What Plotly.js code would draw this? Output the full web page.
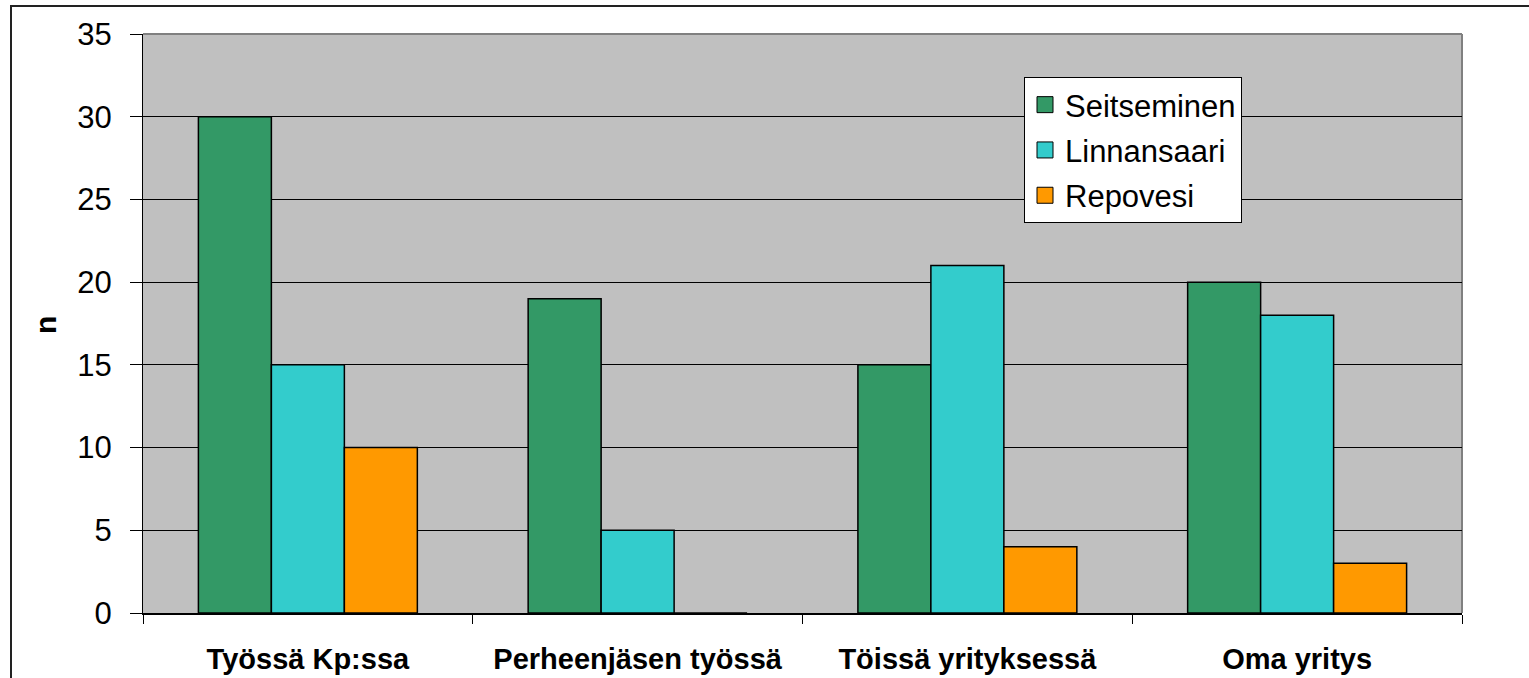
<!DOCTYPE html>
<html>
<head>
<meta charset="utf-8">
<script src="https://cdn.plot.ly/plotly-3.0.1.min.js"></script>
<style>
html,body{margin:0;padding:0;background:#fff;}
#chart{width:1529px;height:678px;}
</style>
</head>
<body>
<div id="chart"></div>
<script>
const categories = ["Työssä Kp:ssa", "Perheenjäsen työssä", "Töissä yrityksessä", "Oma yritys"];
const seriesNames = ["Seitseminen", "Linnansaari", "Repovesi"];
const seitseminen = [30, 19, 15, 20];
const linnansaari = [15, 5, 21, 18];
const repovesi = [10, 0, 4, 3];
const colors = ["#339966", "#33CCCC", "#FF9900"];
const yTicks = [0, 5, 10, 15, 20, 25, 30, 35];

const FONT = "Arial, 'Liberation Sans', sans-serif";
const values = [seitseminen, linnansaari, repovesi];

const traces = [];
values.forEach((v, i) => {
  traces.push({
    type: "bar",
    x: categories,
    y: v,
    name: seriesNames[i],
    showlegend: false,
    marker: {color: colors[i], line: {color: "#000", width: 1.5}},
    hoverinfo: "x+y+name"
  });
});
values.forEach((v, i) => {
  traces.push({
    type: "scatter",
    mode: "markers",
    x: [null],
    y: [null],
    name: seriesNames[i],
    legendgroup: "g" + i,
    marker: {symbol: "square", size: 19, color: colors[i], line: {color: "#000", width: 1}},
    hoverinfo: "skip"
  });
});

const L = 143, R = 1462, T = 34, B = 613, W = 1529, H = 678;
const pw = R - L, ph = B - T;

const layout = {
  width: W, height: H,
  margin: {l: L, r: W - R, t: T, b: H - B, pad: 0},
  paper_bgcolor: "#fff",
  plot_bgcolor: "#C0C0C0",
  barmode: "group",
  bargap: 0.336,
  bargroupgap: 0,
  font: {family: FONT, color: "#000"},
  showlegend: true,
  legend: {
    x: (1024 - L) / pw, y: (B - 77) / ph,
    xanchor: "left", yanchor: "top",
    bgcolor: "#fff", bordercolor: "#000", borderwidth: 1,
    font: {family: FONT, size: 31, color: "#000"},
    traceorder: "grouped",
    tracegroupgap: 2,
    itemwidth: 30
  },
  xaxis: {
    type: "category",
    tickson: "boundaries",
    ticks: "outside", ticklen: 9, tickcolor: "#000", tickwidth: 1,
    showline: true, linecolor: "#000", linewidth: 2,
    showgrid: false,
    tickfont: {family: FONT, size: 29, color: "#000", weight: "bold"},
    ticklabelstandoff: 19,
    fixedrange: true
  },
  yaxis: {
    range: [0, 35],
    tickvals: yTicks,
    ticktext: yTicks.map(String),
    ticks: "outside", ticklen: 12, tickcolor: "#000", tickwidth: 1,
    showline: true, linecolor: "#000", linewidth: 1,
    showgrid: true, gridcolor: "#000", gridwidth: 1,
    zeroline: false,
    tickfont: {family: FONT, size: 31, color: "#000"},
    ticklabelstandoff: 12,
    fixedrange: true
  },
  shapes: [
    {type: "line", xref: "paper", yref: "paper", x0: 0, x1: 1, y0: 1, y1: 1, layer: "between",
     line: {color: "#808080", width: 2}},
    {type: "line", xref: "paper", yref: "paper", x0: 1, x1: 1, y0: 0, y1: 1, layer: "between",
     line: {color: "#808080", width: 2}},
    {type: "rect", xref: "paper", yref: "paper",
     x0: (11 - L) / pw, x1: (1600 - L) / pw, y0: (B - 800) / ph, y1: (B - 6) / ph,
     line: {color: "#222", width: 2}, fillcolor: "rgba(0,0,0,0)", layer: "above"}
  ],
  annotations: [
    {xref: "paper", yref: "paper", x: (45 - L) / pw, y: (B - 325) / ph, text: "n", showarrow: false,
     textangle: -90, font: {family: FONT, size: 30, color: "#000", weight: "bold"},
     xanchor: "center", yanchor: "middle"}
  ]
};

Plotly.newPlot("chart", traces, layout, {displayModeBar: false, staticPlot: true});
</script>
</body>
</html>
